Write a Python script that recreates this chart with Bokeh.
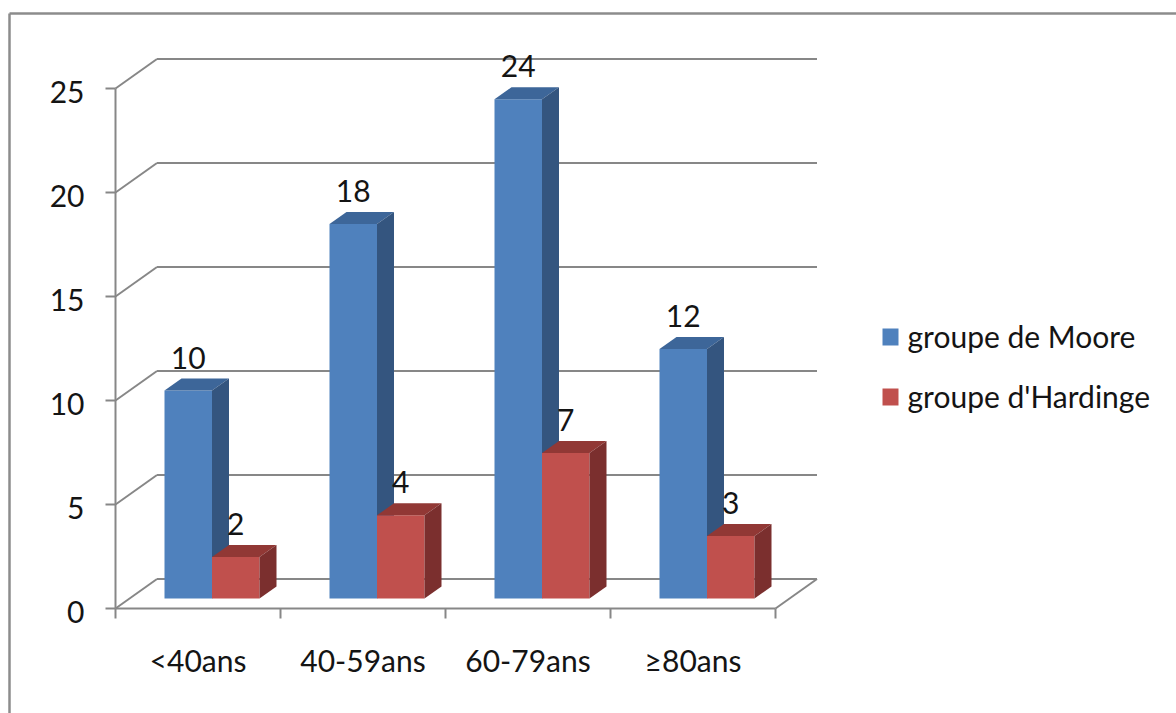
from bokeh.plotting import figure
from bokeh.models import Range1d
from bokeh.embed import file_html
from bokeh.resources import INLINE
from bokeh.core.properties import value

# ---------------- data ----------------
categories = ["<40ans", "40-59ans", "60-79ans", "\u226580ans"]
moore = [10, 18, 24, 12]
hardinge = [2, 4, 7, 3]
series_names = ["groupe de Moore", "groupe d'Hardinge"]
y_ticks = [0, 5, 10, 15, 20, 25]

# ---------------- layout / style ----------------
W, H = 1176, 713
X0_PX, Y0_PX = 115, 608      # screen position of (x=0, y=0) on the front plane
PX_X, PX_Y = 165.0, 20.8     # pixels per category / per value unit

def X(px):
    return (px - X0_PX) / PX_X

def Y(px):
    return (Y0_PX - px) / PX_Y

def dx(px):
    return px / PX_X

def dy(px):
    return px / PX_Y

FONT = value("Lato")
FS = "30px"
TXT = "#141414"
GRID = "#878787"
BLUE = ("#4f81bd", "#3d6699", "#34557f")   # front, top, side
RED = ("#c0504d", "#913835", "#7b2f2e")

DEPTH_X, DEPTH_Y = dx(41.5), dy(29.5)      # wall depth
BAR_OFF_X, BAR_OFF_Y = dx(14), dy(10)      # bar plane offset from front plane
BAR_DX, BAR_DY = dx(17), dy(12)            # bar depth
BAR_W = dx(47.5)
N = len(categories)
YMAX = y_ticks[-1]

p = figure(width=W, height=H,
           x_range=Range1d(X(0), X(W)), y_range=Range1d(Y(H), Y(0)),
           x_axis_type=None, y_axis_type=None,
           output_backend="svg", toolbar_location=None, min_border=0)
p.grid.visible = False
p.outline_line_color = None
p.background_fill_color = "white"
p.border_fill_color = "white"

# outer chart border (left + top)
p.segment(x0=[X(9), X(9)], y0=[Y(13), Y(13)], x1=[X(9), X(W)], y1=[Y(H), Y(13)],
          line_color="#8c8c8c", line_width=2.5)

# ---------------- walls / grid ----------------
gx0, gy0, gx1, gy1 = [], [], [], []
for v in y_ticks:
    gx0.append(DEPTH_X); gy0.append(v + DEPTH_Y); gx1.append(N + DEPTH_X); gy1.append(v + DEPTH_Y)
    gx0.append(0); gy0.append(v); gx1.append(DEPTH_X); gy1.append(v + DEPTH_Y)
    gx0.append(-dx(10)); gy0.append(v); gx1.append(0); gy1.append(v)
gx0.append(0); gy0.append(0); gx1.append(0); gy1.append(YMAX)
gx0.append(0); gy0.append(0); gx1.append(N); gy1.append(0)
gx0.append(N); gy0.append(0); gx1.append(N + DEPTH_X); gy1.append(DEPTH_Y)
for i in range(N + 1):
    gx0.append(i); gy0.append(0); gx1.append(i); gy1.append(-dy(10))
p.segment(x0=gx0, y0=gy0, x1=gx1, y1=gy1, line_color=GRID, line_width=2)

# y tick labels
p.text(x=[-dx(31)] * len(y_ticks), y=[v - dy(3) for v in y_ticks],
       text=[str(v) for v in y_ticks], text_align="right", text_baseline="alphabetic",
       text_font=FONT, text_font_size=FS, text_color=TXT)

# category labels
p.text(x=[i + 0.5 for i in range(N)], y=[-dy(51)] * N, text=categories,
       text_align="center", text_baseline="alphabetic",
       text_font=FONT, text_font_size=FS, text_color=TXT)

# ---------------- bars ----------------
def draw_series(vals, side, colors):
    fl, fr, ft, fb = [], [], [], []
    txs, tys, sxs, sys_ = [], [], [], []
    for i, v in enumerate(vals):
        c = i + 0.5 + BAR_OFF_X
        x0 = c - BAR_W if side == 0 else c
        x1 = x0 + BAR_W
        b = BAR_OFF_Y
        t = BAR_OFF_Y + v
        fl.append(x0); fr.append(x1); fb.append(b); ft.append(t)
        txs.append([x0, x1, x1 + BAR_DX, x0 + BAR_DX])
        tys.append([t, t, t + BAR_DY, t + BAR_DY])
        sxs.append([x1, x1 + BAR_DX, x1 + BAR_DX, x1])
        sys_.append([b, b + BAR_DY, t + BAR_DY, t])
    p.quad(left=fl, right=fr, top=ft, bottom=fb, fill_color=colors[0], line_color=None)
    p.patches(xs=txs, ys=tys, fill_color=colors[1], line_color=None)
    p.patches(xs=sxs, ys=sys_, fill_color=colors[2], line_color=None)
    p.text(x=[(l + r) / 2 for l, r in zip(fl, fr)], y=[t + dy(33) for t in ft],
           text=[str(v) for v in vals], text_align="center", text_baseline="alphabetic",
           text_font=FONT, text_font_size=FS, text_color=TXT)

draw_series(moore, 0, BLUE)
draw_series(hardinge, 1, RED)

# ---------------- legend ----------------
leg_tops = [328, 388]
for name, top_px, col in zip(series_names, leg_tops, [BLUE[0], RED[0]]):
    p.quad(left=[X(882)], right=[X(898)], top=[Y(top_px)], bottom=[Y(top_px + 17)],
           fill_color=col, line_color=None)
    p.text(x=[X(907)], y=[Y(top_px + 7)], text=[name], text_align="left",
           text_baseline="alphabetic", text_font=FONT, text_font_size=FS, text_color=TXT)

open("out.html", "w").write(file_html(p, INLINE))
